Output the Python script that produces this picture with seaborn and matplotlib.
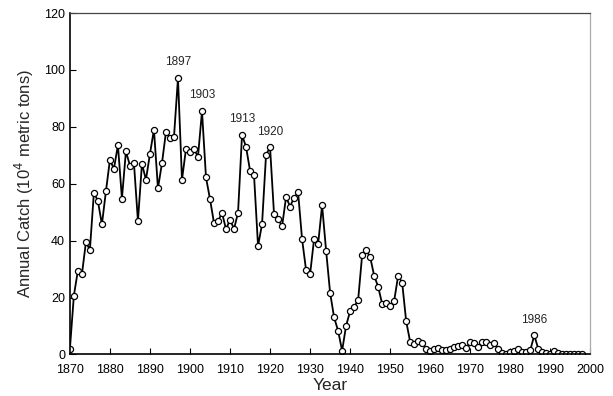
import matplotlib
matplotlib.use("Agg")
import matplotlib.pyplot as plt
import seaborn as sns
import pandas as pd

years = list(range(1870, 1999))
catch = [
    1.9, 20.7, 29.5, 28.1, 39.4, 36.8, 56.9, 53.9, 45.7, 57.3,   # 1870-1879
    68.4, 65.2, 73.6, 54.8, 71.4, 66.4, 67.3, 46.9, 67.0, 61.4,  # 1880-1889
    70.5, 79.0, 58.4, 67.2, 78.2, 76.1, 76.4, 97.1, 61.4, 72.2,  # 1890-1899
    71.0, 72.1, 69.5, 85.5, 62.2, 54.6, 46.2, 46.8, 49.8, 44.0,  # 1900-1909
    47.4, 44.1, 49.8, 77.1, 73.0, 64.6, 62.9, 38.1, 45.8, 70.2,  # 1910-1919
    72.8, 49.2, 47.7, 45.0, 55.3, 52.0, 55.1, 57.0, 40.5, 29.6,  # 1920-1929
    28.2, 40.6, 38.7, 52.4, 36.5, 21.7, 13.0, 8.3, 1.3, 10.1,    # 1930-1939
    15.2, 16.7, 19.1, 34.9, 36.6, 34.3, 27.7, 23.8, 17.8, 18.0,  # 1940-1949
    17.1, 18.8, 27.7, 25.2, 11.7, 4.4, 3.7, 4.6, 3.9, 2.0,       # 1950-1959
    1.3, 2.0, 2.3, 1.6, 1.6, 1.8, 2.5, 3.0, 3.4, 2.3,            # 1960-1969
    4.4, 3.9, 2.5, 4.4, 4.4, 3.4, 3.9, 1.8, 0.5, 0.3,            # 1970-1979
    1.0, 1.2, 2.0, 0.8, 0.8, 1.5, 6.7, 2.0, 1.0, 0.5,            # 1980-1989
    0.3, 1.3, 0.5, 0.3, 0.3, 0.3, 0.2, 0.2, 0.2,                 # 1990-1998
]
labelled_years = [1897, 1903, 1913, 1920, 1986]

df = pd.DataFrame({"Year": years, "Catch": catch})

sns.set_theme(style="white")
plt.rcParams["font.family"] = ["Liberation Sans", "DejaVu Sans"]

fig = plt.figure(figsize=(6.13, 3.96), dpi=100)
ax = fig.add_axes([0.114, 0.105, 0.849, 0.862])

sns.lineplot(data=df, x="Year", y="Catch", ax=ax, color="black", linewidth=1.3,
             marker="o", markersize=4.4, markerfacecolor="white",
             markeredgecolor="black", markeredgewidth=0.9)

for yr in labelled_years:
    val = catch[years.index(yr)]
    ax.annotate(str(yr), (yr, val), xytext=(0, 7), textcoords="offset points",
                ha="center", va="bottom", fontsize=8.5)

ax.set_xlim(1870, 2000)
ax.set_ylim(0, 120)
ax.set_xticks(range(1870, 2001, 10))
ax.set_yticks(range(0, 121, 20))
ax.tick_params(axis="both", direction="in", length=4, width=0.8, labelsize=9,
               colors="black", bottom=True, left=True)
ax.tick_params(axis="x", pad=7)
ax.set_xlabel("Year", fontsize=12.5, labelpad=1)
ax.set_ylabel("Annual Catch (10$^4$ metric tons)", fontsize=12, labelpad=6)

for side in ["left", "bottom"]:
    ax.spines[side].set_color("black")
    ax.spines[side].set_linewidth(1.2)
ax.spines["top"].set_color("#444444")
ax.spines["top"].set_linewidth(0.9)
ax.spines["right"].set_color("#aaaaaa")
ax.spines["right"].set_linewidth(0.9)

fig.savefig("out.png", dpi=100)
